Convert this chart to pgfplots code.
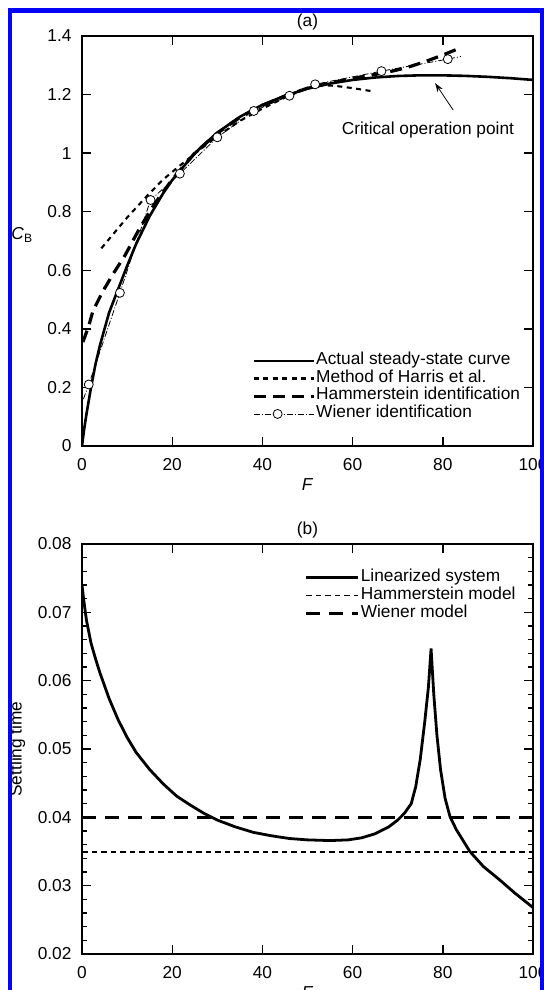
\documentclass[border=0pt]{standalone}
\usepackage{fontspec}
\setmainfont{Liberation Sans}
\usepackage{pgfplots}
\pgfplotsset{compat=1.18}
\usetikzlibrary{arrows.meta}
\definecolor{frameblue}{RGB}{5,5,245}
\tikzset{
  actual/.style={black, line width=2.6bp, solid},
  harris/.style={black, line width=2.1bp, dash pattern=on 5bp off 4.5bp},
  hamm/.style={black, line width=3.2bp, dash pattern=on 12bp off 7bp},
  wien/.style={black, line width=0.8bp, dash pattern=on 6bp off 2bp on 1bp off 2bp},
  lin/.style={black, line width=2.8bp, solid},
  hammb/.style={black, line width=1.8bp, dash pattern=on 5.5bp off 4bp},
  wienb/.style={black, line width=2.6bp, dash pattern=on 14bp off 9bp},
}
\pgfplotsset{
  myaxis/.style={
    scale only axis, width=451bp, height=410bp,
    anchor=south west,
    xmin=0, xmax=100,
    xtick={0,20,40,60,80,100}, xticklabels={0,20,40,60,80,100},
    tick align=inside,
    major tick length=9bp, minor tick length=5bp,
    axis line style={line width=1.8bp},
    every tick/.append style={line width=1.4bp, black},
    xticklabel style={yshift=-9bp},
    yticklabel style={xshift=-7bp},
    scaled ticks=false,
    every axis title shift=0pt,
    legend style={draw=none, fill=none, inner sep=0pt, outer sep=0pt,
      row sep=0pt, column sep=1bp,
      nodes={inner sep=0pt, text height=12.6bp, text depth=5.1bp, anchor=west}},
    legend cell align=left,
  }
}
\begin{document}
\begin{tikzpicture}[font=\fontsize{17.3bp}{21bp}\selectfont]
\path[use as bounding box] (0,0) rectangle (544bp,990bp);
\clip (0,0) rectangle (544bp,990bp);

% ---------------- (a) ----------------
\begin{axis}[myaxis, at={(82bp,544bp)},
  ymin=0, ymax=1.4,
  ytick={0,0.2,0.4,0.6,0.8,1,1.2,1.4},
  yticklabels={0,0.2,0.4,0.6,0.8,1,1.2,1.4},
  xlabel={\textit{F}}, xlabel style={at={(axis description cs:0.5,-0.095)}, anchor=center},
  ylabel={\textit{C}\textsubscript{B}}, ylabel style={rotate=-90, at={(axis description cs:-0.133,0.515)}, anchor=center},
  title={(a)}, title style={at={(axis description cs:0.5,1.033)}, anchor=center},
  legend style={at={(axis description cs:0.3770,0.2293)}, anchor=north west},
  legend image code/.code={\draw[#1] (0bp,0bp) -- (60bp,0bp);},
]
\addplot[actual] coordinates {
(0,0) (0.5,0.06) (1,0.11) (2,0.2) (3,0.28) (4,0.345) (6,0.455) (8,0.535)
(10,0.615) (12,0.69) (15,0.785) (18,0.863) (20,0.908) (25,1.0) (30,1.07)
(35,1.124) (40,1.165) (45,1.196) (50,1.22) (55,1.2376) (60,1.25) (65,1.2583)
(70,1.2634) (75,1.2657) (80,1.2656) (85,1.2638) (90,1.2605) (95,1.2559) (100,1.25)};
\addlegendentry{Actual steady-state curve}
\addplot[harris] coordinates {
(4.3,0.675) (7,0.725) (10,0.78) (14.6,0.857) (18,0.91) (21.5,0.955) (26,1.01)
(30,1.058) (35,1.11) (40,1.152) (45,1.19) (50,1.222) (53,1.232) (56,1.230)
(60,1.222) (64.5,1.211)};
\addlegendentry{Method of Harris et al.}
\addplot[hamm] coordinates {
(0.2,0.355) (1.5,0.41) (2.4,0.46) (4.5,0.525) (7,0.59) (9.5,0.65) (12.8,0.744)
(16,0.825) (20,0.91) (25,1.0) (30,1.068) (35,1.122) (40,1.163) (45,1.195)
(50,1.222) (55,1.24) (60,1.255) (64,1.266) (68,1.277) (72,1.292) (76,1.312)
(80,1.335) (84,1.36)};
\addlegendentry{Hammerstein identification}
\addplot[wien, forget plot] coordinates {
(0.3,0.16) (1.5,0.21) (8.4,0.523) (15.2,0.84) (21.7,0.93) (30,1.054) (38.1,1.144)
(46,1.196) (51.7,1.235) (66.4,1.28) (81.1,1.321) (84,1.33)};
\addplot[only marks, mark=*, mark size=4.5bp,
  mark options={solid, fill=white, draw=black, line width=0.8bp},
  legend image code/.code={\draw[wien] (0bp,0bp) -- (60bp,0bp);
     \draw[solid, black, fill=white, line width=0.8bp] (24bp,0bp) circle (4.5bp);}]
coordinates {
(1.5,0.21) (8.4,0.523) (15.2,0.84) (21.7,0.93) (30,1.054) (38.1,1.144)
(46,1.196) (51.7,1.235) (66.4,1.28) (81.1,1.321)};
\addlegendentry{Wiener identification}
\node at (axis cs:76.7,1.079) {Critical operation point};
\draw[black, line width=0.8bp, -{Stealth[length=9bp,width=6bp]}] (axis cs:82.3,1.147) -- (axis cs:78.3,1.239);
\end{axis}

% ---------------- (b) ----------------
\begin{axis}[myaxis, at={(82bp,36bp)},
  ymin=0.02, ymax=0.08,
  ytick={0.02,0.03,0.04,0.05,0.06,0.07,0.08},
  yticklabels={0.02,0.03,0.04,0.05,0.06,0.07,0.08},
  minor y tick num=4,
  xlabel={\textit{F}}, xlabel style={at={(axis description cs:0.5,-0.095)}, anchor=center},
  ylabel={Settling time}, ylabel style={at={(axis description cs:-0.144,0.5)}, anchor=center},
  title={(b)}, title style={at={(axis description cs:0.5,1.034)}, anchor=center},
  legend style={at={(axis description cs:0.4945,0.9390)}, anchor=north west},
  legend image code/.code={\draw[#1] (0bp,0bp) -- (52bp,0bp);},
]
\addplot[lin] coordinates {
(0,0.0740) (0.5,0.0712) (1,0.0688) (2,0.0655) (3,0.0632) (4,0.0611) (6,0.0574)
(8,0.0543) (10,0.0517) (12,0.0495) (15,0.0470) (18,0.0449) (21,0.0431)
(24,0.0418) (27,0.0406) (30,0.0396) (34,0.0386) (38,0.0378) (42,0.0373)
(46,0.0369) (50,0.0367) (55,0.0366) (59,0.0367) (62,0.0370) (65,0.0376)
(68,0.0386) (70,0.0396) (71.5,0.0406) (73,0.0420) (74,0.0445) (75,0.0485)
(76,0.0540) (76.8,0.0590) (77.4,0.0647) (78,0.0580) (78.7,0.0520) (79.5,0.0470)
(80.5,0.0428) (81.6,0.0401) (83,0.0382) (86,0.0350) (89,0.0328) (92.7,0.0308)
(96,0.0289) (100,0.0268)};
\addlegendentry{Linearized system}
\addplot[hammb] coordinates {(0,0.0349) (100,0.0349)};
\addlegendentry{Hammerstein model}
\addplot[wienb] coordinates {(0,0.0400) (100,0.0400)};
\addlegendentry{Wiener model}
\end{axis}

% frame
\draw[frameblue, line width=4.5bp] (10bp,-5bp) -- (10bp,979.5bp) -- (542bp,979.5bp) -- (542bp,-5bp);
\end{tikzpicture}
\end{document}
